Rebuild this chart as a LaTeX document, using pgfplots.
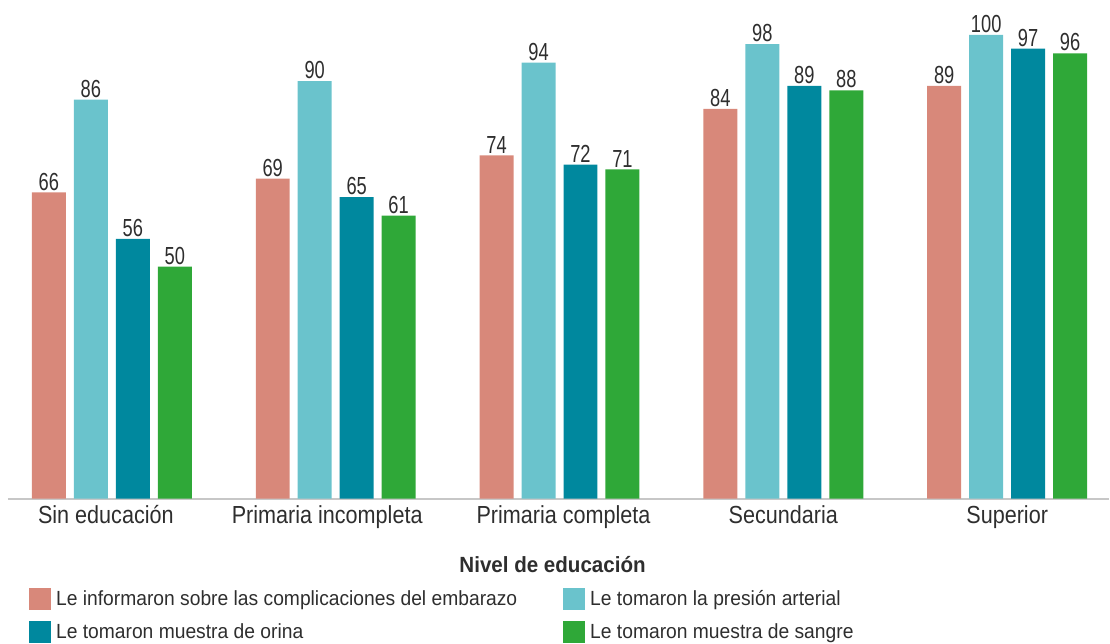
\documentclass[border=0pt]{standalone}
\usepackage{pgfplots}
\pgfplotsset{compat=1.18}
\usepackage{fontspec}
\setmainfont{Liberation Sans}[FakeStretch=0.935]
\newfontfamily\tickfont{Liberation Sans}[FakeStretch=0.875]
\newfontfamily\legfont{Liberation Sans}[FakeStretch=0.94]
\newfontfamily\numfont{Liberation Sans}[FakeStretch=0.74]
\definecolor{cSal}{HTML}{D8887A}
\definecolor{cLt}{HTML}{6AC3CC}
\definecolor{cTeal}{HTML}{00889E}
\definecolor{cGrn}{HTML}{2FA838}
\definecolor{txt}{HTML}{2E2E2E}
\begin{document}
\begin{tikzpicture}
\begin{axis}[
  scale only axis,
  width=1102pt, height=499pt,
  xmin=-0.464, xmax=4.455,
  ymin=0, ymax=107.5,
  ybar=8pt, bar width=34pt,
  axis y line=none,
  axis x line*=bottom,
  x axis line style={draw=black!22, line width=2pt, -},
  xtick=data,
  xticklabels={\kern-12pt Sin educación, \kern-17pt Primaria incompleta, \kern8pt Primaria completa, Secundaria, Superior},
  major tick length=0pt,
  xticklabel style={font=\tickfont\fontsize{24.7}{28}\selectfont, text=txt, anchor=base, yshift=-25pt},
  xlabel={\bfseries Nivel de educación},
  xlabel style={font=\fontsize{22}{26}\selectfont, text=txt, at={(axis description cs:0.4946,-0.148)}, anchor=base},
  nodes near coords,
  every node near coord/.append style={font=\numfont\fontsize{24.7}{28}\selectfont, text=txt, inner sep=2pt},
  /pgf/number format/assume math mode=true,
  clip=false,
  legend columns=2,
  legend cell align=left,
  legend style={draw=none, fill=none, inner sep=0pt, at={(axis description cs:0.019,-0.2906)}, anchor=south west,
    font=\legfont\fontsize{20.5}{24}\selectfont, text=txt,
    nodes={inner xsep=4pt, inner ysep=0pt},
    /tikz/every odd column/.style={column sep=1pt},
    /tikz/every even column/.style={column sep=42pt},
    row sep=11.5pt},
  legend image code/.code={\fill[#1] (0pt,-11pt) rectangle (22pt,11pt);},
]
\addplot[fill=cSal, draw=none] coordinates {(0,66) (1,69) (2,74) (3,84) (4,89)};
\addplot[fill=cLt, draw=none] coordinates {(0,86) (1,90) (2,94) (3,98) (4,100)};
\addplot[fill=cTeal, draw=none] coordinates {(0,56) (1,65) (2,72) (3,89) (4,97)};
\addplot[fill=cGrn, draw=none] coordinates {(0,50) (1,61) (2,71) (3,88) (4,96)};
\legend{Le informaron sobre las complicaciones del embarazo, Le tomaron la presión arterial, Le tomaron muestra de orina, Le tomaron muestra de sangre}
\path (rel axis cs:0,1) ++(-8pt,0pt);
\end{axis}
\end{tikzpicture}
\end{document}
